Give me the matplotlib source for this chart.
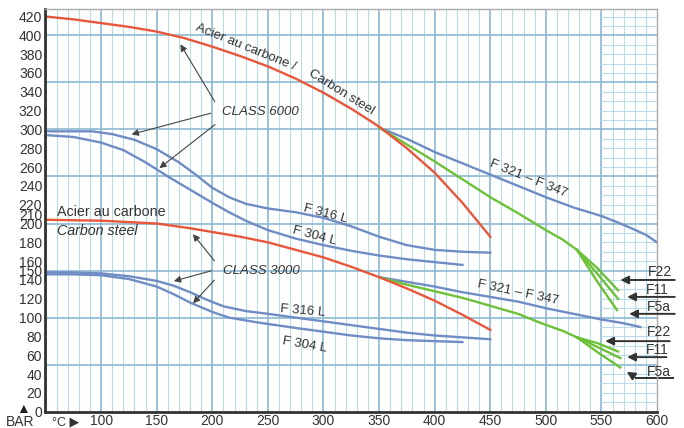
import numpy as np
import matplotlib.pyplot as plt

plt.rcParams['font.family'] = ['Liberation Sans', 'DejaVu Sans']

# --- pressure (bar) vs temperature (degC) readings ---
# CLASS 6000
c6000_carbon_t = [50, 75, 100, 125, 150, 175, 200, 225, 250, 275, 300, 325, 350, 375, 400, 425, 450]
c6000_carbon_p = [420, 417, 413, 409, 404, 397, 388, 378, 367, 354, 339, 322, 303, 280, 254, 222, 186]

c6000_f316_t = [50, 75, 92, 110, 130, 150, 170, 185, 200, 215, 230, 250, 275, 300, 325, 350, 375, 400, 425, 450]
c6000_f316_p = [298, 298, 298, 295, 289, 279, 265, 252, 238, 228, 221, 216, 212, 206, 197, 186, 177, 172, 170, 169]

c6000_f304_t = [50, 75, 100, 120, 140, 160, 180, 200, 215, 230, 250, 275, 300, 325, 350, 375, 400, 425]
c6000_f304_p = [294, 292, 286, 278, 265, 250, 236, 222, 212, 203, 193, 184, 177, 171, 166, 162, 159, 156]

c6000_f321_t = [350, 375, 400, 425, 450, 475, 500, 525, 550, 565, 575, 590, 600]
c6000_f321_p = [302, 290, 276, 264, 252, 240, 228, 217, 208, 201, 196, 188, 180]

c6000_green_t = [350, 375, 400, 425, 450, 475, 500, 515, 528]
c6000_green_p = [302, 284, 266, 247, 228, 211, 193, 183, 172]
c6000_f22_t = [528, 546, 565]
c6000_f22_p = [172, 153, 129]
c6000_f11_t = [528, 546, 565]
c6000_f11_p = [172, 147, 120]
c6000_f5a_t = [528, 547, 564]
c6000_f5a_p = [172, 137, 108]

# CLASS 3000
c3000_carbon_t = [50, 100, 150, 180, 200, 225, 250, 275, 300, 325, 350, 375, 400, 425, 450]
c3000_carbon_p = [204, 203, 200, 195, 191, 186, 180, 172, 164, 154, 143, 131, 118, 103, 87]

c3000_f316_t = [50, 75, 100, 125, 150, 165, 180, 195, 210, 230, 250, 275, 300, 325, 350, 375, 400, 425, 450]
c3000_f316_p = [148, 148, 147, 144, 139, 134, 127, 119, 112, 107, 104, 100, 96, 92, 88, 84, 81, 79, 77]

c3000_f304_t = [50, 75, 100, 125, 150, 165, 180, 200, 215, 240, 275, 300, 325, 350, 375, 400, 425]
c3000_f304_p = [146, 146, 145, 141, 133, 125, 116, 106, 100, 95, 89, 85, 81, 78, 76, 75, 74]

c3000_f321_t = [350, 375, 400, 425, 450, 475, 500, 525, 550, 570, 585]
c3000_f321_p = [143, 138, 133, 127, 122, 117, 110, 104, 98, 94, 90]

c3000_green_t = [350, 375, 400, 425, 440, 475, 496, 515, 528]
c3000_green_p = [143, 135, 128, 121, 116, 104, 94, 86, 79]
c3000_f22_t = [528, 546, 565]
c3000_f22_p = [79, 73, 64]
c3000_f11_t = [528, 546, 567]
c3000_f11_p = [79, 69, 57]
c3000_f5a_t = [528, 548, 567]
c3000_f5a_p = [79, 62, 47]

y_ticks = list(range(0, 141, 20)) + [150] + list(range(160, 201, 20)) + [210] + list(range(220, 421, 20))
x_ticks = list(range(100, 601, 50))

ORANGE = '#e8573a'
BLUE = '#6f8cc4'
GREEN = '#6cc137'
TXT = '#333333'
GRID_MINOR = '#bcdbe8'
GRID_MAJOR = '#8cb9d3'

fig = plt.figure(figsize=(6.84, 4.28), dpi=100)
ax = fig.add_axes([45 / 684, (428 - 411.7) / 428, (657 - 45) / 684, (411.7 - 9) / 428])
ax.set_xlim(49.5, 600)
ax.set_ylim(0, 428)

# graph-paper grid
for t in range(50, 600, 10):
    major = t % 50 == 0
    ax.axvline(t, color=GRID_MAJOR if major else GRID_MINOR, lw=1.2 if major else 0.8, zorder=0)
for p in range(50, 428, 50):
    ax.axhline(p, color=GRID_MAJOR, lw=1.2, zorder=0)
for p in range(10, 428, 10):
    if p % 50:
        ax.plot([550, 600], [p, p], color=GRID_MINOR, lw=0.8, zorder=0)

lw = 1.7
ax.plot(c6000_f316_t, c6000_f316_p, color=BLUE, lw=lw)
ax.plot(c6000_f304_t, c6000_f304_p, color=BLUE, lw=lw)
ax.plot(c6000_f321_t, c6000_f321_p, color=BLUE, lw=lw)
ax.plot(c3000_f316_t, c3000_f316_p, color=BLUE, lw=lw)
ax.plot(c3000_f304_t, c3000_f304_p, color=BLUE, lw=lw)
ax.plot(c3000_f321_t, c3000_f321_p, color=BLUE, lw=lw)
for t, p in [(c6000_green_t, c6000_green_p), (c6000_f22_t, c6000_f22_p),
             (c6000_f11_t, c6000_f11_p), (c6000_f5a_t, c6000_f5a_p),
             (c3000_green_t, c3000_green_p), (c3000_f22_t, c3000_f22_p),
             (c3000_f11_t, c3000_f11_p), (c3000_f5a_t, c3000_f5a_p)]:
    ax.plot(t, p, color=GREEN, lw=lw)
ax.plot(c6000_carbon_t, c6000_carbon_p, color=ORANGE, lw=lw)
ax.plot(c3000_carbon_t, c3000_carbon_p, color=ORANGE, lw=lw)

# axes styling
for s in ['left', 'bottom']:
    ax.spines[s].set_color('#333333')
    ax.spines[s].set_linewidth(2)
for s in ['top', 'right']:
    ax.spines[s].set_color('#aaaaaa')
    ax.spines[s].set_linewidth(1)
ax.set_yticks(y_ticks)
ax.set_xticks(x_ticks)
ax.tick_params(length=0, labelsize=10, colors=TXT, pad=2)

# curve labels
fs = 9.5
ax.text(229.6, 387.7, 'Acier au carbone /', rotation=-22, ha='center', va='center', fontsize=fs, color=TXT)
ax.text(316, 340, 'Carbon steel', rotation=-32, ha='center', va='center', fontsize=fs, color=TXT)
ax.text(60.4, 212, 'Acier au carbone', ha='left', va='center', fontsize=10.3, color=TXT)
ax.text(60.4, 192, 'Carbon steel', ha='left', va='center', fontsize=10.3, color=TXT, style='italic')
ax.text(302, 210, 'F 316 L', rotation=-15, ha='center', va='center', fontsize=fs, color=TXT)
ax.text(292, 187, 'F 304 L', rotation=-15, ha='center', va='center', fontsize=fs, color=TXT)
ax.text(281, 107, 'F 316 L', rotation=-5, ha='center', va='center', fontsize=fs, color=TXT)
ax.text(283, 71, 'F 304 L', rotation=-10, ha='center', va='center', fontsize=fs, color=TXT)
ax.text(484, 248, 'F 321 \u2013 F 347', rotation=-22, ha='center', va='center', fontsize=fs, color=TXT)
ax.text(475, 127, 'F 321 \u2013 F 347', rotation=-12, ha='center', va='center', fontsize=fs, color=TXT)

ax.text(243, 319, 'CLASS 6000', ha='center', va='center', fontsize=fs, color=TXT, style='italic')
ax.text(244, 149.5, 'CLASS 3000', ha='center', va='center', fontsize=fs, color=TXT, style='italic')

arr = dict(arrowstyle='-|>', color='#444444', lw=0.8, mutation_scale=10)
for head, tail in [((170, 393), (203.5, 327)), ((125, 294), (201, 318)), ((150.4, 257), (204.4, 307)),
                   ((181, 191), (203.5, 158)), ((163, 138), (201.7, 150.6)), ((181, 113), (203.5, 142))]:
    ax.annotate('', xy=head, xytext=tail, arrowprops=arr)

# grade arrows on the right
garr = dict(arrowstyle='-|>', color='#333333', lw=1.4, mutation_scale=12)
grade_labels = ['F22', 'F11', 'F5a', 'F22', 'F11', 'F5a']
heads = [(564.5, 140), (570.7, 122), (572.5, 104), (551, 75), (570.7, 58), (570.7, 44)]
tails = [(618.5, 140), (618.5, 122), (618.5, 104), (614, 75), (611, 58), (581.5, 36)]
text_pos = [(603, 148.5), (600.5, 129), (601.4, 111), (602, 85), (600.5, 65.5), (602, 42)]
for lab, h, t, tp in zip(grade_labels, heads, tails, text_pos):
    ax.annotate('', xy=h, xytext=t, arrowprops=garr, annotation_clip=False)
    ax.text(tp[0], tp[1], lab, ha='center', va='center', fontsize=10, color=TXT, clip_on=False)
ax.plot([581.5, 614], [36, 36], color='#333333', lw=1.4, clip_on=False)

# unit markers
fig.text(20 / 684, 1 - 422 / 428, 'BAR', ha='center', va='center', fontsize=10, color=TXT)
fig.text(66 / 684, 1 - 422 / 428, '\u00b0C \u25b6', ha='center', va='center', fontsize=9, color=TXT)
fig.text(23 / 684, 1 - 409 / 428, '\u25b2', ha='center', va='center', fontsize=10, color='#222222')

fig.savefig('out.png', dpi=100)
